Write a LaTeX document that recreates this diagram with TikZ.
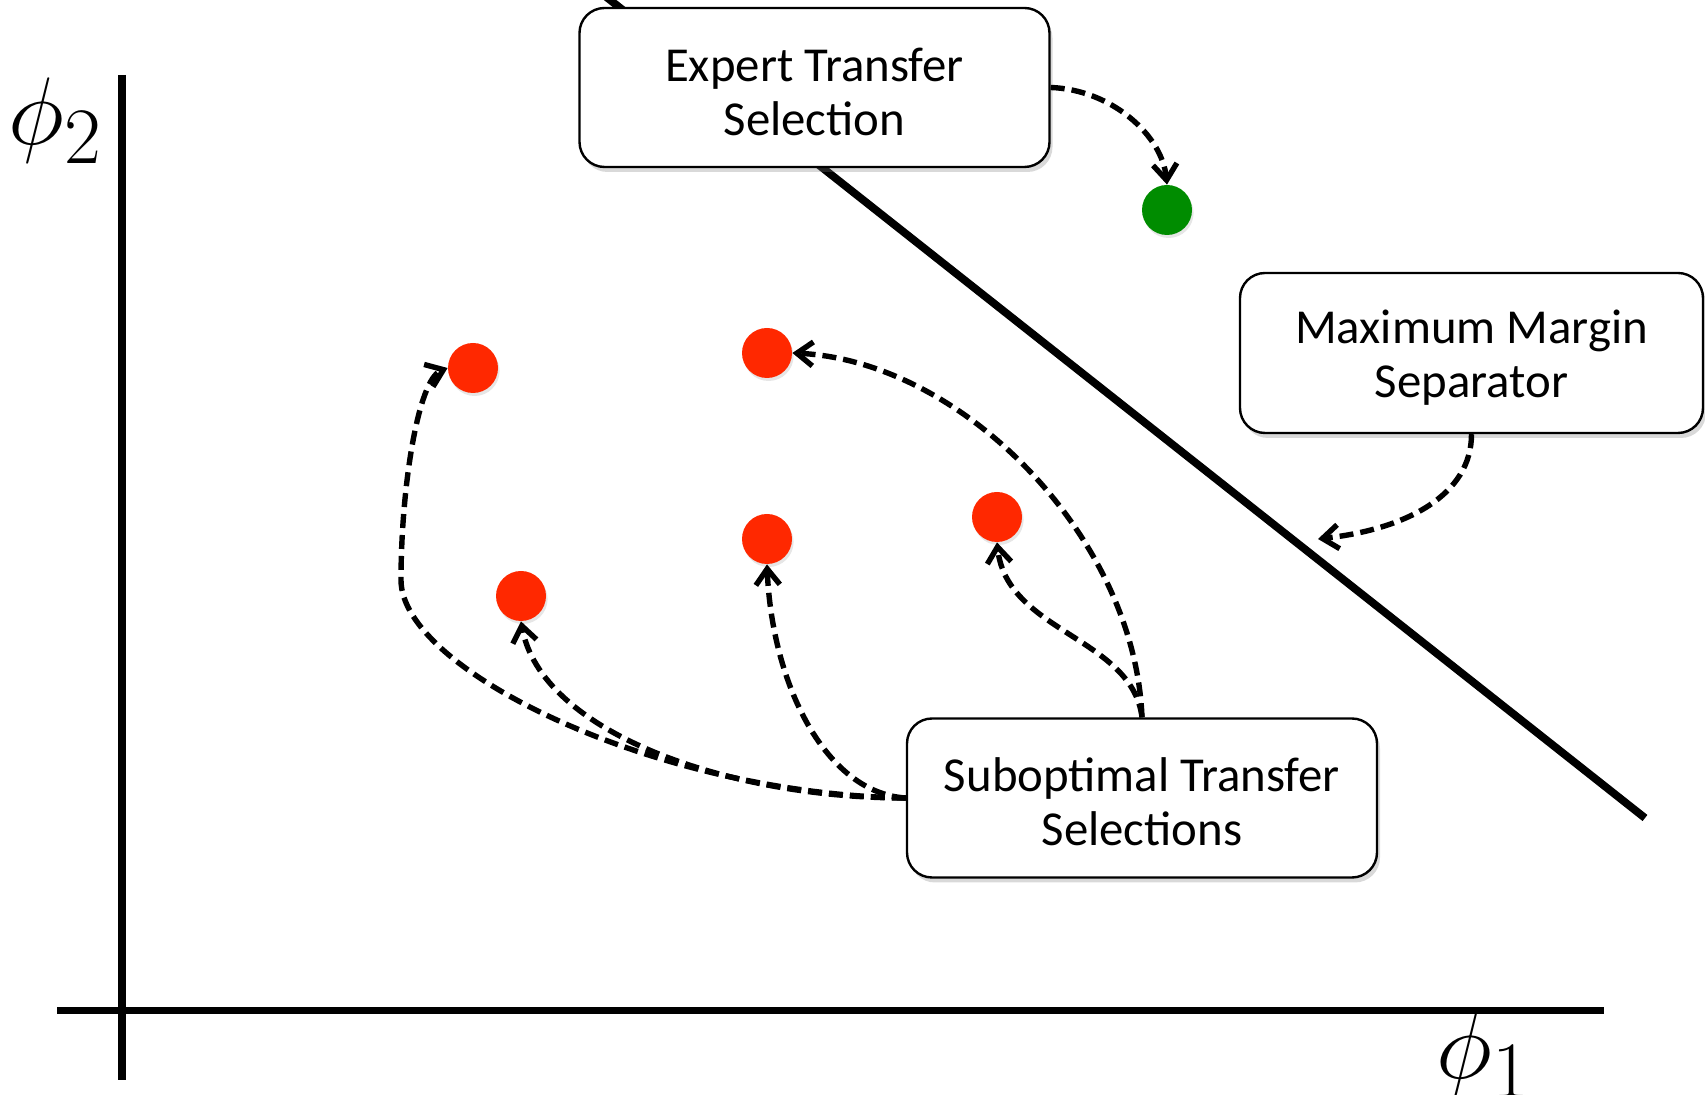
\documentclass[tikz,border=0pt]{standalone}
\usepackage{fontspec}
\newfontfamily\boxfont{Carlito}
\usetikzlibrary{arrows.meta,shadows}
\definecolor{dotred}{RGB}{255,40,0}
\definecolor{dotgreen}{RGB}{0,140,0}
\newcommand{\topstrut}{\rule{0pt}{21pt}}
\begin{document}
\begin{tikzpicture}[x=0.5pt,y=-0.5pt,
  labelbox/.style={draw=black, line width=1.2pt, fill=white, rounded corners=12.5pt,
    minimum width=235pt, minimum height=79.5pt, align=center,
    font=\boxfont\fontsize{24.4}{27}\selectfont,
    drop shadow={shadow xshift=1.5pt, shadow yshift=-2.5pt, opacity=0.3}},
  dot/.style={circle, minimum size=25pt, inner sep=0pt,
    drop shadow={shadow xshift=0.8pt, shadow yshift=-1.5pt, opacity=0.2}},
  conn/.style={line width=2.7pt, dash pattern=on 7pt off 3.5pt,
    -{Straight Barb[length=8pt,width=12pt]}},
  axisline/.style={line width=3.9pt},
  philabel/.style={inner sep=0pt, scale=1.93, font=\Huge}]
\useasboundingbox (0,0) rectangle (1705,1095);

% axes
\coordinate (ytop) at (122,75);
\coordinate (ybot) at (122,1080);
\coordinate (xl) at (57,1010.5);
\coordinate (xr) at (1604,1010.5);
\draw[axisline] (ytop) -- (ybot);
\draw[axisline] (xl) -- (xr);
\node[philabel] (phi2) at (55.5,120.5) {$\phi_2$};
\node[philabel] (phi1) at (1483.5,1054.5) {$\phi_1$};

% separator
\coordinate (s1) at (600,-8);
\coordinate (s2) at (1645,818);
\draw[line width=3.9pt] (s1) -- (s2);

% boxes
\node[labelbox] (exp) at (814.5,87.5) {\topstrut Expert Transfer\\Selection};
\node[labelbox, minimum width=231.5pt, minimum height=80pt] (mm) at (1471.5,353) {\topstrut Maximum Margin\\Separator};
\node[labelbox] (sub) at (1142,798) {\topstrut Suboptimal Transfer\\Selections};

% dots
\node[dot, fill=dotgreen] (g) at (1167,210) {};
\node[dot, fill=dotred] (r1) at (473,368) {};
\node[dot, fill=dotred] (r2) at (767,353) {};
\node[dot, fill=dotred] (r3) at (767,539) {};
\node[dot, fill=dotred] (r4) at (997,517) {};
\node[dot, fill=dotred] (r5) at (521,596) {};

% connectors
\draw[conn] (exp.east) .. controls +(60,2) and +(-5,-50) .. (g.north);
\coordinate (septip) at (1318,539);
\draw[conn] (mm.south) .. controls +(0,60) and +(90,-10) .. (septip);
\draw[conn] (sub.north) .. controls +(-10,-80) and +(10,90) .. (r4.south);
\draw[conn] (sub.north) .. controls +(-7,-180) and +(170,8) .. (r2.east);
\draw[conn] (sub.west) .. controls +(-80,-5) and +(5,120) .. (r3.south);
\draw[conn] (sub.west) .. controls +(-180,0) and +(20,110) .. (r5.south);
\coordinate (bend) at (401,580);
\draw[conn] (sub.west) .. controls +(-250,-4) and +(0,90) .. (bend) .. controls +(0,-90) and +(-30,12) .. (r1.west);
\end{tikzpicture}
\end{document}
